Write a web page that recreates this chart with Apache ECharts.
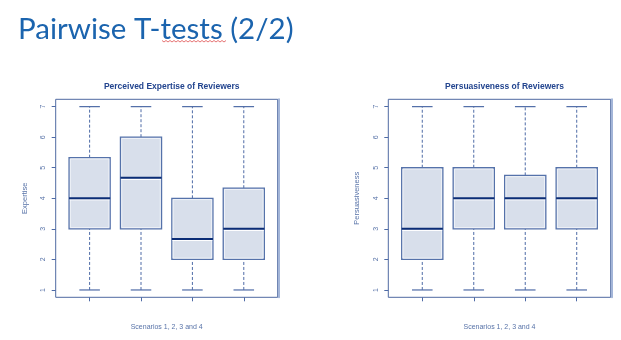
<!DOCTYPE html>
<html>
<head>
<meta charset="utf-8">
<script src="https://cdn.jsdelivr.net/npm/echarts@6/dist/echarts.min.js"></script>
<style>html,body{margin:0;padding:0;background:#fff;}#c{width:621px;height:340px;}</style>
</head>
<body>
<div id="c"></div>
<script>
// ---- data ----
const scenarios = [1, 2, 3, 4];
const yTicks = [1, 2, 3, 4, 5, 6, 7];
const expertiseMin = [1, 1, 1, 1];
const expertiseQ1 = [3, 3, 2, 2];
const expertiseMedian = [4, 4.67, 2.67, 3];
const expertiseQ3 = [5.33, 6, 4, 4.33];
const expertiseMax = [7, 7, 7, 7];
const persuasivenessMin = [1, 1, 1, 1];
const persuasivenessQ1 = [2, 3, 3, 3];
const persuasivenessMedian = [3, 4, 4, 4];
const persuasivenessQ3 = [5, 5, 4.75, 5];
const persuasivenessMax = [7, 7, 7, 7];

function rows(mn, q1, md, q3, mx) {
  return scenarios.map((s, i) => [s, mn[i], q1[i], md[i], q3[i], mx[i]]);
}

const BLUE = '#4e6ba6';
const LABEL = '#5873a8';

function renderBox(params, api) {
  const x = api.value(0);
  const lo = api.coord([x, api.value(1)]);
  const q1 = api.coord([x, api.value(2)]);
  const md = api.coord([x, api.value(3)]);
  const q3 = api.coord([x, api.value(4)]);
  const hi = api.coord([x, api.value(5)]);
  const bw = api.size([0.8, 0])[0];
  const cw = api.size([0.4, 0])[0];
  const dash = {stroke: BLUE, lineWidth: 1, lineDash: [3, 2]};
  const solid = {stroke: BLUE, lineWidth: 1.2};
  return {
    type: 'group',
    children: [
      {type: 'line', shape: {x1: lo[0], y1: lo[1], x2: q1[0], y2: q1[1]}, style: dash},
      {type: 'line', shape: {x1: q3[0], y1: q3[1], x2: hi[0], y2: hi[1]}, style: dash},
      {type: 'line', shape: {x1: lo[0] - cw / 2, y1: lo[1], x2: lo[0] + cw / 2, y2: lo[1]}, style: solid},
      {type: 'line', shape: {x1: hi[0] - cw / 2, y1: hi[1], x2: hi[0] + cw / 2, y2: hi[1]}, style: solid},
      {type: 'rect', shape: {x: q3[0] - bw / 2, y: q3[1], width: bw, height: q1[1] - q3[1]},
        style: {fill: '#d8dfeb', stroke: '#5572aa', lineWidth: 1.3}},
      {type: 'rect', shape: {x: q3[0] - bw / 2 + 1.3, y: q3[1] + 1.3, width: bw - 2.6, height: q1[1] - q3[1] - 2.6},
        style: {fill: 'none', stroke: '#f4f6fa', lineWidth: 0.8}},
      {type: 'line', shape: {x1: md[0] - bw / 2 + 0.7, y1: md[1] + 1.6, x2: md[0] + bw / 2 - 0.7, y2: md[1] + 1.6},
        style: {stroke: '#ffffff', lineWidth: 1}},
      {type: 'line', shape: {x1: md[0] - bw / 2, y1: md[1], x2: md[0] + bw / 2, y2: md[1]},
        style: {stroke: '#0b2d76', lineWidth: 2}}
    ]
  };
}

const grids = [
  {left: 55.7, top: 99.3, width: 222, height: 198, show: true, borderColor: '#4f6aa2', borderWidth: 1},
  {left: 388.3, top: 99.3, width: 222.4, height: 198, show: true, borderColor: '#4f6aa2', borderWidth: 1}
];

function xAx(i) {
  return {
    type: 'value', gridIndex: i, min: 0.34, max: 4.66,
    name: 'Scenarios 1, 2, 3 and 4', nameLocation: 'middle', nameGap: 26,
    nameTextStyle: {fontFamily: 'Liberation Sans', fontSize: 7, color: LABEL},
    axisLine: {show: false},
    axisTick: {show: true, length: 4, customValues: scenarios, lineStyle: {color: BLUE}},
    axisLabel: {show: false},
    splitLine: {show: false}
  };
}
function yAx(i, name) {
  return {
    type: 'value', gridIndex: i, min: 0.76, max: 7.24,
    name: name, nameLocation: 'middle', nameGap: 27, nameRotate: 90,
    nameTextStyle: {fontFamily: 'Liberation Sans', fontSize: 7.5, color: LABEL},
    axisLine: {show: false},
    axisTick: {show: true, length: 4, customValues: yTicks, lineStyle: {color: BLUE}},
    axisLabel: {show: true, customValues: yTicks, rotate: 90, margin: 9, fontSize: 7,
      fontFamily: 'Liberation Sans', color: LABEL},
    splitLine: {show: false}
  };
}
function yEdge(i) {
  return {
    type: 'value', gridIndex: i, min: 0.76, max: 7.24, position: 'right', offset: 1,
    axisLine: {show: true, lineStyle: {color: '#a3b5d8', width: 2}},
    axisTick: {show: false}, axisLabel: {show: false}, splitLine: {show: false}
  };
}

const squiggle = [];
for (let x = 162; x <= 226; x += 2) squiggle.push([x, (x - 162) % 4 === 0 ? 40.5 : 42]);

const option = {
  backgroundColor: '#ffffff',
  animation: false,
  title: [
    {text: 'Pairwise T-tests (2/2)', left: 13, top: 9,
      textStyle: {fontFamily: 'Lato', fontWeight: 'normal', fontSize: 29.5, color: '#1b64ae'}},
    {text: 'Perceived Expertise of Reviewers', left: 166.7, top: 77, textAlign: 'center',
      textStyle: {fontFamily: 'Liberation Sans', fontWeight: 'bold', fontSize: 8.5, color: '#23458f'}},
    {text: 'Persuasiveness of Reviewers', left: 499.5, top: 77, textAlign: 'center',
      textStyle: {fontFamily: 'Liberation Sans', fontWeight: 'bold', fontSize: 8.5, color: '#23458f'}}
  ],
  grid: grids,
  xAxis: [xAx(0), xAx(1)],
  yAxis: [yAx(0, 'Expertise'), yAx(1, 'Persuasiveness'), yEdge(0), yEdge(1)],
  graphic: [
    {type: 'polyline', shape: {points: squiggle}, style: {stroke: '#e05050', lineWidth: 0.8, fill: 'none'}, silent: true}
  ],
  series: [
    {type: 'custom', xAxisIndex: 0, yAxisIndex: 0, renderItem: renderBox,
      data: rows(expertiseMin, expertiseQ1, expertiseMedian, expertiseQ3, expertiseMax)},
    {type: 'custom', xAxisIndex: 1, yAxisIndex: 1, renderItem: renderBox,
      data: rows(persuasivenessMin, persuasivenessQ1, persuasivenessMedian, persuasivenessQ3, persuasivenessMax)}
  ]
};
const chart = echarts.init(document.getElementById('c'), null, {renderer: 'canvas'});
chart.setOption(option);
</script>
</body>
</html>
